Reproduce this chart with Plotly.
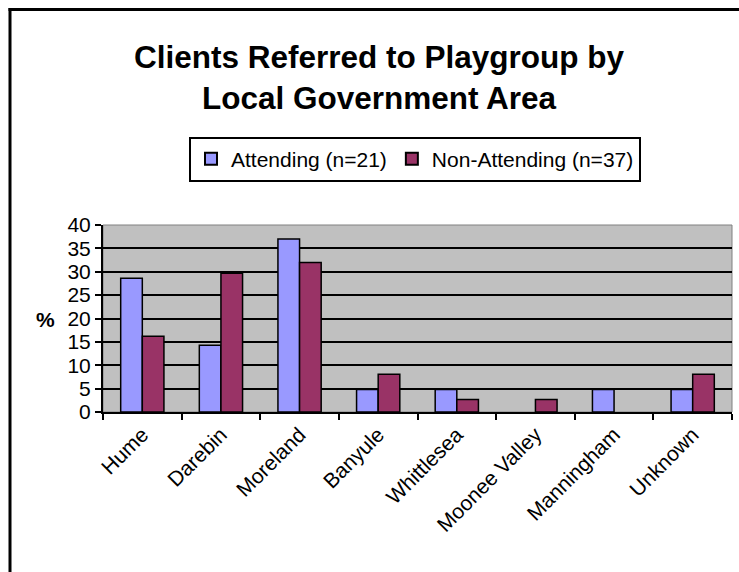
import plotly.graph_objects as go

categories = ["Hume", "Darebin", "Moreland", "Banyule", "Whittlesea",
              "Moonee Valley", "Manningham", "Unknown"]
attending = [28.6, 14.3, 37.0, 4.8, 4.8, 0, 4.8, 4.8]
non_attending = [16.2, 29.7, 32.0, 8.1, 2.7, 2.7, 0, 8.1]
series_names = ["Attending (n=21)", "Non-Attending (n=37)"]
y_ticks = [0, 5, 10, 15, 20, 25, 30, 35, 40]
title_text = "Clients Referred to Playgroup by<br>Local Government Area"

FONT = "Liberation Sans, Arial, sans-serif"

def outline_widths(vals):
    return [0 if v == 0 else 1.5 for v in vals]

fig = go.Figure()
fig.add_trace(go.Bar(x=categories, y=attending, name=series_names[0],
                     marker=dict(color="#9999FF",
                                 line=dict(color="black", width=outline_widths(attending)))))
fig.add_trace(go.Bar(x=categories, y=non_attending, name=series_names[1],
                     marker=dict(color="#993366",
                                 line=dict(color="black", width=outline_widths(non_attending)))))

W, H = 739, 572
L, R, T, B = 103, 7, 225, 160
pw = W - L - R
ph = H - T - B

def px_x(x):
    return (x - L) / pw

def px_y(y):
    return (H - B - y) / ph

fig.update_layout(
    width=W, height=H,
    margin=dict(l=L, r=R, t=T, b=B, pad=0),
    paper_bgcolor="white",
    plot_bgcolor="#C0C0C0",
    font=dict(family=FONT, size=21, color="black"),
    barmode="group", bargap=0.45, bargroupgap=0,
    showlegend=True,
    legend=dict(orientation="h", x=px_x(415), y=px_y(159), xanchor="center", yanchor="middle",
                bordercolor="black", borderwidth=2, bgcolor="white",
                font=dict(family=FONT, size=21), itemsizing="constant",
                traceorder="normal", itemwidth=30),
    annotations=[
        dict(text="<b>" + title_text.replace("<br>", "</b><br><b>") + "</b>",
             x=px_x(379), y=px_y(77), xref="paper", yref="paper",
             xanchor="center", yanchor="middle", showarrow=False,
             font=dict(family=FONT, size=31.5, color="black")),
        dict(text="<b>%</b>", x=px_x(45), y=px_y(319), xref="paper", yref="paper",
             xanchor="center", yanchor="middle", showarrow=False,
             font=dict(family=FONT, size=21, color="black")),
    ],
    shapes=[
        dict(type="rect", xref="paper", yref="paper", x0=0, x1=1, y0=0, y1=1,
             line=dict(color="#808080", width=1), layer="below"),
        dict(type="line", xref="paper", yref="paper",
             x0=px_x(8.5), x1=px_x(739), y0=px_y(9.5), y1=px_y(9.5),
             line=dict(color="black", width=3)),
        dict(type="line", xref="paper", yref="paper",
             x0=px_x(10), x1=px_x(10), y0=px_y(8), y1=px_y(572),
             line=dict(color="black", width=3)),
    ],
)

fig.update_yaxes(range=[0, 40], tickvals=y_ticks, ticktext=[str(v) for v in y_ticks],
                 showgrid=True, gridcolor="black", gridwidth=2,
                 showline=True, linecolor="black", linewidth=2,
                 ticks="outside", ticklen=6, tickwidth=2, tickcolor="black",
                 zeroline=False, tickfont=dict(size=21), fixedrange=True)
fig.update_xaxes(type="category", tickangle=-45, showgrid=False,
                 showline=True, linecolor="black", linewidth=2,
                 ticks="outside", tickson="boundaries", ticklen=6, tickwidth=2,
                 tickcolor="black", tickfont=dict(size=21), fixedrange=True)

fig.write_html("out.html")
